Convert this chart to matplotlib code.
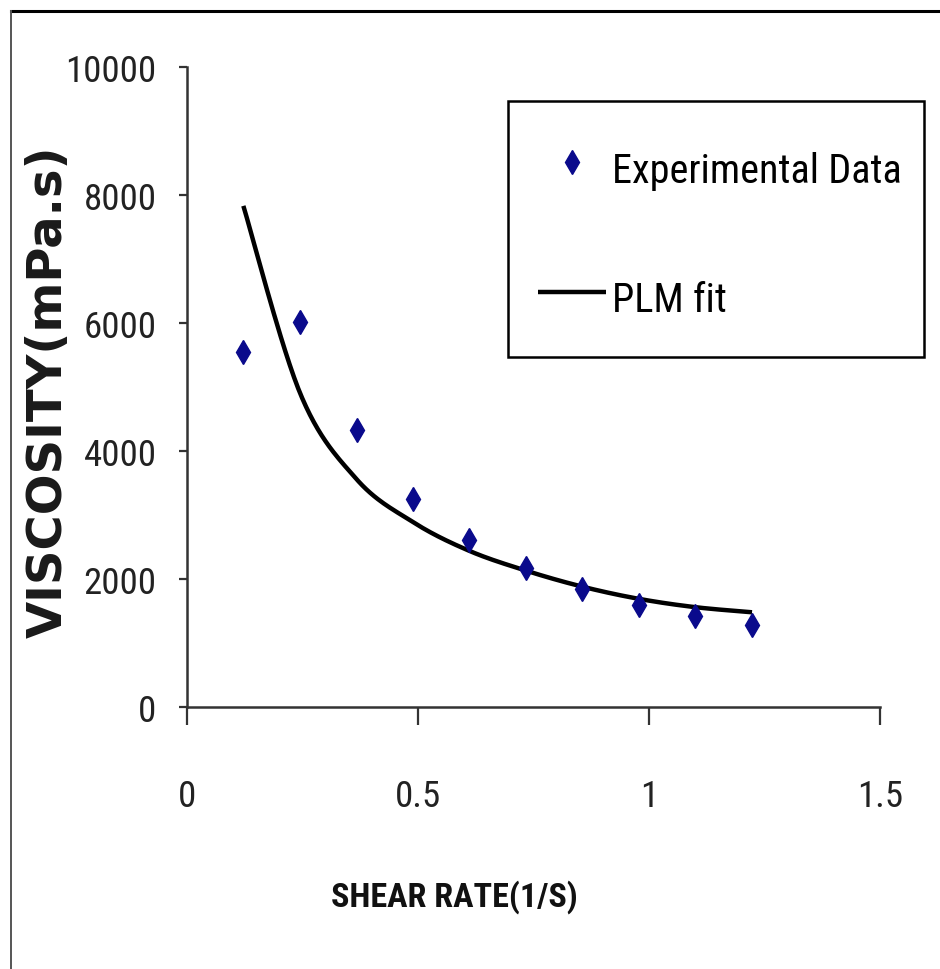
import numpy as np
import matplotlib
matplotlib.use("Agg")
import matplotlib.pyplot as plt
from matplotlib.lines import Line2D
from matplotlib.patches import Rectangle
from matplotlib import font_manager
from matplotlib.font_manager import FontProperties
from matplotlib.textpath import TextPath

# ---- data ----
shear_rate = [0.122, 0.245, 0.367, 0.489, 0.611, 0.734, 0.856, 0.978, 1.100, 1.223]
viscosity_exp = [5550, 6020, 4330, 3250, 2610, 2170, 1840, 1590, 1420, 1280]
viscosity_fit = [7830, 4900, 3560, 2890, 2440, 2130, 1880, 1690, 1560, 1480]
x_ticks = [0, 0.5, 1, 1.5]
x_tick_labels = ["0", "0.5", "1", "1.5"]
y_ticks = [0, 2000, 4000, 6000, 8000, 10000]
y_tick_labels = ["0", "2000", "4000", "6000", "8000", "10000"]
series_labels = ["Experimental Data", "PLM fit"]
x_label = "SHEAR RATE(1/S)"
y_label = "VISCOSITY(mPa.s)"

DPI = 100
W, H = 940, 970

# pick the narrowest installed sans family
names = {f.name for f in font_manager.fontManager.ttflist}
narrow = None
for cand in ["Liberation Sans Narrow", "Arial Narrow", "Roboto Condensed",
             "Open Sans Condensed", "Noto Sans Condensed", "DejaVu Sans Condensed"]:
    if cand in names:
        narrow = cand
        break
STRETCH = "normal"
if narrow is None:
    fp = FontProperties(family="DejaVu Sans", stretch="condensed")
    path = font_manager.findfont(fp)
    if "Condensed" in path:
        narrow = "DejaVu Sans"
        STRETCH = "condensed"
    else:
        narrow = "Liberation Sans"
NARROW = [narrow, "DejaVu Sans"]
WIDE = ["DejaVu Sans"]


def ink_width_px(s, family, size, weight="normal", stretch="normal"):
    fp = FontProperties(family=family, size=size, weight=weight, stretch=stretch)
    tp = TextPath((0, 0), s, prop=fp, size=size)
    return tp.get_extents().width * DPI / 72.0


def fit_size(s, target_px, family, weight="normal", stretch="normal"):
    w = ink_width_px(s, family, 10, weight, stretch)
    return 10 * target_px / w


def smooth(xs, ys, n=30):
    """Bezier smoothing like a spreadsheet 'smoothed line'."""
    xs = np.asarray(xs, float)
    ys = np.asarray(ys, float)
    m = len(xs)
    px, py = [], []
    for i in range(m - 1):
        x0 = xs[i - 1] if i > 0 else xs[i]
        y0 = ys[i - 1] if i > 0 else ys[i]
        x3 = xs[i + 2] if i + 2 < m else xs[i + 1]
        y3 = ys[i + 2] if i + 2 < m else ys[i + 1]
        x1, y1, x2, y2 = xs[i], ys[i], xs[i + 1], ys[i + 1]
        c1x, c1y = x1 + (x2 - x0) / 6, y1 + (y2 - y0) / 6
        c2x, c2y = x2 - (x3 - x1) / 6, y2 - (y3 - y1) / 6
        t = np.linspace(0, 1, n)
        bx = (1 - t) ** 3 * x1 + 3 * (1 - t) ** 2 * t * c1x + 3 * (1 - t) * t ** 2 * c2x + t ** 3 * x2
        by = (1 - t) ** 3 * y1 + 3 * (1 - t) ** 2 * t * c1y + 3 * (1 - t) * t ** 2 * c2y + t ** 3 * y2
        px.extend(bx)
        py.extend(by)
    return np.array(px), np.array(py)


# font sizes chosen so that text widths match the reference
tick_fs = fit_size("10000", 86, narrow, stretch=STRETCH)
leg_fs = fit_size("Experimental Data", 284, narrow, stretch=STRETCH)
xlab_fs = fit_size(x_label, 244, narrow, weight="bold", stretch=STRETCH)
ylab_fs = min(fit_size(y_label, 488, "DejaVu Sans", weight="bold"), 40)

fig = plt.figure(figsize=(W / DPI, H / DPI), dpi=DPI)
fig.patch.set_facecolor("white")
ax = fig.add_axes([187 / W, (H - 708) / H, 693 / W, 640 / H])

ax.plot(shear_rate, viscosity_exp, linestyle="none", marker="d", markersize=12,
        color="#0a0a8c", markeredgecolor="#0a0a8c", label=series_labels[0], zorder=3)
sx, sy = smooth(shear_rate, viscosity_fit)
ax.plot(sx, sy, color="black", linewidth=3.2, label=series_labels[1],
        solid_capstyle="butt", zorder=2)

ax.set_xlim(0, 1.5)
ax.set_ylim(0, 10000)
ax.set_xticks(x_ticks)
ax.set_xticklabels(x_tick_labels)
ax.set_yticks(y_ticks)
ax.set_yticklabels(y_tick_labels)

for s in ["top", "right"]:
    ax.spines[s].set_visible(False)
for s in ["left", "bottom"]:
    ax.spines[s].set_linewidth(1.8)
    ax.spines[s].set_color("#333333")

ax.tick_params(axis="y", direction="out", length=6, width=1.6, color="#333333",
               pad=16, labelsize=tick_fs, labelcolor="#222222")
ax.tick_params(axis="x", direction="out", length=13, width=1.6, color="#333333",
               pad=38, labelsize=tick_fs, labelcolor="#222222")
for lab in ax.get_xticklabels() + ax.get_yticklabels():
    lab.set_fontfamily(NARROW)
    lab.set_fontstretch(STRETCH)

ax.set_xlabel(x_label, fontsize=xlab_fs, fontweight="bold", family=NARROW,
              fontstretch=STRETCH, color="#111111")
ax.xaxis.set_label_coords((454 - 187) / 693, (708 - 897) / 640)
ax.xaxis.label.set_va("center")

ax.set_ylabel(y_label, fontsize=ylab_fs, fontweight="bold", family=WIDE, color="#1a1a1a")
ax.yaxis.set_label_coords((48 - 187) / 693, (708 - 392) / 640)
ax.yaxis.label.set_va("center")

# legend contents (frame drawn separately to match the reference box exactly)
fs_px = leg_fs * DPI / 72.0
leg = ax.legend(loc="upper left", bbox_to_anchor=((538 - 187) / 693, (708 - 144) / 640),
                borderaxespad=0, frameon=False, borderpad=0,
                handlelength=68 / fs_px, handletextpad=6 / fs_px,
                handleheight=64 / fs_px, labelspacing=78 / fs_px,
                prop=FontProperties(family=NARROW, size=leg_fs, stretch=STRETCH))
fig.add_artist(Rectangle((508 / W, 1 - 358 / H), 416 / W, 256 / H,
                         transform=fig.transFigure, fill=False,
                         edgecolor="black", linewidth=1.8))

# outer frame (top and left edges visible in the reference)
fig.add_artist(Line2D([11 / W, 1.0], [1 - 12 / H, 1 - 12 / H], color="black", linewidth=2.2))
fig.add_artist(Line2D([11 / W, 11 / W], [0.0, 1 - 12 / H], color="#555555", linewidth=1.4))

fig.savefig("out.png", dpi=DPI, facecolor="white")
